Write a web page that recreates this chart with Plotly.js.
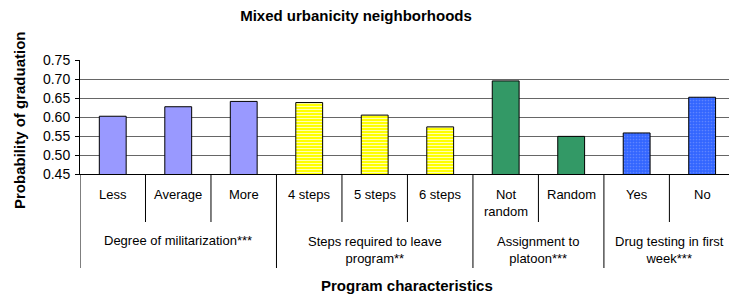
<!DOCTYPE html>
<html>
<head>
<meta charset="utf-8">
<script src="https://cdn.plot.ly/plotly-3.0.1.min.js"></script>
<style>html,body{margin:0;padding:0;background:#fff;}#chart{width:729px;height:299px;}</style>
</head>
<body>
<div id="chart"></div>
<script>
// ---- data ----
const categories = ['Less', 'Average', 'More', '4 steps', '5 steps', '6 steps', 'Not random', 'Random', 'Yes', 'No'];
const categoryLabels = ['Less', 'Average', 'More', '4 steps', '5 steps', '6 steps', 'Not<br>random', 'Random', 'Yes', 'No'];
const probabilities = [0.602, 0.627, 0.641, 0.638, 0.605, 0.574, 0.695, 0.549, 0.558, 0.652];
const groupLabels = ['Degree of militarization***', 'Steps required to leave<br>program**', 'Assignment to<br>platoon***', 'Drug testing in first<br>week***'];
const groupSizes = [3, 3, 2, 2];
const yTicks = [0.45, 0.50, 0.55, 0.60, 0.65, 0.70, 0.75];

// ---- styles ----
const groupColors = ['#9999FF', '#FFFF00', '#339966', '#3366FF'];
const groupFg = [null, '#FFFFB0', null, '#5E84FF'];
const groupShape = ['', '-', '', '.'];

const FONT = 'Liberation Sans, Arial, sans-serif';
const plotTop = 60, plotBottom = 174, plotH = plotBottom - plotTop;
const py = p => (plotBottom - p) / plotH; // pixel y -> paper y

const shapes = [], annotations = [], traces = [];
let start = 0;
const groupBounds = [-0.5];
groupSizes.forEach((n, g) => {
  const xs = categories.slice(start, start + n);
  const ys = probabilities.slice(start, start + n);
  const marker = {color: groupColors[g], line: {color: '#000', width: 1}};
  if (groupShape[g]) {
    marker.pattern = {shape: groupShape[g], fgcolor: groupFg[g], bgcolor: groupColors[g], fgopacity: 1,
      size: 3, solidity: groupShape[g] === '-' ? 0.35 : 0.25, fillmode: 'replace'};
  }
  traces.push({type: 'bar', x: xs, y: ys, width: 0.41, marker: marker, hoverinfo: 'x+y'});
  start += n;
  groupBounds.push(start - 0.5);
});

for (let k = 0; k <= categories.length; k++) {
  const xb = k - 0.5;
  const isGroup = groupBounds.includes(xb);
  shapes.push({type: 'line', xref: 'x', yref: 'paper', x0: xb, x1: xb, y0: 0, y1: py(isGroup ? 268 : 222),
    line: {color: '#000', width: 1}});
}
categories.forEach((c, i) => {
  annotations.push({xref: 'x', yref: 'paper', x: i, y: py(categoryLabels[i].includes('<br>') ? 203 : 194.5),
    text: categoryLabels[i], showarrow: false, xanchor: 'center', yanchor: 'middle',
    font: {family: FONT, size: 13, color: '#000'}});
});
start = 0;
groupSizes.forEach((n, g) => {
  const center = start + (n - 1) / 2;
  start += n;
  annotations.push({xref: 'x', yref: 'paper', x: center, y: py(groupLabels[g].includes('<br>') ? 249.5 : 240.7),
    text: groupLabels[g], showarrow: false, xanchor: 'center', yanchor: 'middle',
    font: {family: FONT, size: 13, color: '#000'}});
});
annotations.push({xref: 'paper', yref: 'paper', x: (407 - 80) / 649, y: py(285), text: '<b>Program characteristics</b>',
  showarrow: false, xanchor: 'center', yanchor: 'middle', font: {family: FONT, size: 15, color: '#000'}});
annotations.push({xref: 'paper', yref: 'paper', x: (19 - 80) / 649, y: py(120), text: '<b>Probability of graduation</b>',
  textangle: -90, showarrow: false, xanchor: 'center', yanchor: 'middle', font: {family: FONT, size: 15, color: '#000'}});

const layout = {
  width: 729, height: 299,
  margin: {l: 80, r: 0, t: plotTop, b: 299 - plotBottom, pad: 0},
  paper_bgcolor: '#fff', plot_bgcolor: '#fff',
  showlegend: false, barmode: 'overlay',
  title: {text: '<b>Mixed urbanicity neighborhoods</b>', xref: 'container', yref: 'container', x: 356 / 729, y: 1 - 16 / 299,
    xanchor: 'center', yanchor: 'middle', font: {family: FONT, size: 15, color: '#000'}},
  xaxis: {type: 'category', categoryorder: 'array', categoryarray: categories, range: [-0.5, 9.41],
    showticklabels: false, ticks: '', showgrid: false,
    showline: true, linecolor: '#000', linewidth: 1, zeroline: false, fixedrange: true},
  yaxis: {range: [0.45, 0.75], tickvals: yTicks, tickformat: '.2f', ticks: 'outside', ticklen: 4, tickcolor: '#000',
    showline: true, linecolor: '#000', linewidth: 1, showgrid: true, gridcolor: '#666', gridwidth: 1,
    zeroline: false, tickfont: {family: FONT, size: 14, color: '#000'}, ticklabelstandoff: 2, fixedrange: true},
  shapes: shapes, annotations: annotations
};

Plotly.newPlot('chart', traces, layout, {displayModeBar: false, staticPlot: true});
</script>
</body>
</html>
